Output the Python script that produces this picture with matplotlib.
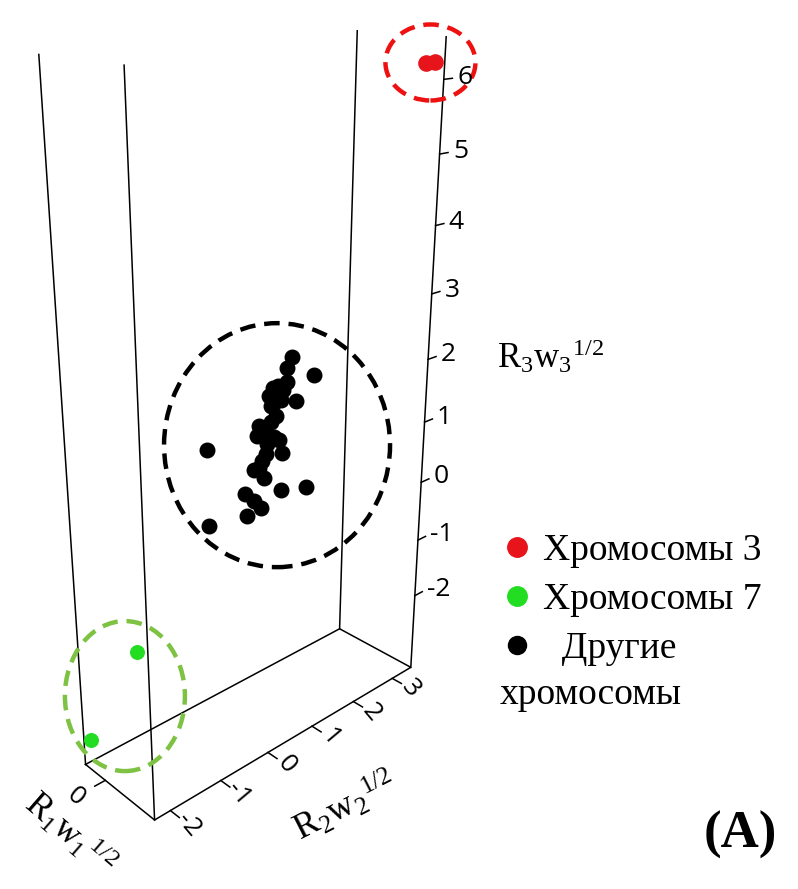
import numpy as np
import matplotlib
matplotlib.use("Agg")
import matplotlib.pyplot as plt
from matplotlib.lines import Line2D
from matplotlib.patches import Ellipse
from mpl_toolkits.mplot3d import proj3d

plt.rcParams['font.family'] = ['Liberation Serif', 'DejaVu Serif']
plt.rcParams['mathtext.fontset'] = 'custom'
plt.rcParams['mathtext.rm'] = 'Liberation Serif'
plt.rcParams['mathtext.it'] = 'Liberation Serif'

# other chromosomes (black cluster)
other_r1 = [0.2] * 34
other_r2 = [1.31, 1.78, 1.20, 1.19, 1.01, 1.40, 0.90, 0.83, 1.08, 0.86, 0.97, 0.61,
            0.76, 0.93, 0.58, 1.04, 1.11, 0.76, 0.68, 0.51, 0.72, 0.33, 0.51, 0.65,
            0.36, 1.08, 1.65, -0.42, -0.42, 0.86, 0.79, 0.61, 0.90, 1.11]
other_r3 = [2.31, 1.93, 2.18, 1.97, 1.95, 1.62, 1.95, 1.84, 1.72, 1.68, 1.50, 1.44,
            1.32, 1.20, 1.31, 1.12, 0.89, 0.97, 0.89, 0.80, 0.61, 0.48, 0.32, 0.16,
            0.13, 0.31, 0.19, 1.36, 0.21, 1.44, 1.13, 0.80, 1.70, 1.87]
# chromosome 3 (red) and chromosome 7 (green)
chr3_r1 = [0.60, 0.56]
chr3_r2 = [3.48, 3.38]
chr3_r3 = [6.22, 6.20]
chr7_r1 = [-0.28, 0.30]
chr7_r2 = [-2.20, -1.97]
chr7_r3 = [-2.95, -1.12]

r1_lim = (-0.3, 0.7)
r2_lim = (-2.3, 3.5)
r3_lim = (-3.35, 6.55)
r1_ticks = [0]
r2_ticks = [-2, -1, 0, 1, 2, 3]
r3_ticks = [-2, -1, 0, 1, 2, 3, 4, 5, 6]

W, H = 798, 889
fig = plt.figure(figsize=(W / 100, H / 100), dpi=100)
ax = fig.add_axes([0, 0, 1, 1], projection='3d')
ax.set_proj_type('persp', focal_length=0.28)
ax.view_init(elev=22, azim=-43)
ax.set_box_aspect((0.3, 1, 1.85))
ax.set_xlim(r1_lim)
ax.set_ylim(r2_lim)
ax.set_zlim(r3_lim)
ax.set_axis_off()

x0, x1 = r1_lim
y0, y1 = r2_lim
z0, z1 = r3_lim
edge = dict(color='black', lw=1.1)
# vertical edges
for cx, cy in [(x0, y0), (x1, y0), (x1, y1), (x0, y1)]:
    ax.plot([cx, cx], [cy, cy], [z0, z1], **edge)
# floor
ax.plot([x0, x1, x1, x0, x0], [y0, y0, y1, y1, y0], [z0] * 5, **edge)

# tick marks
for t in r3_ticks:
    ax.plot([x1, x1], [y1, y1 + 0.2], [t, t], **edge)
for t in r2_ticks:
    ax.plot([x1, x1 + 0.12], [t, t], [z0, z0], **edge)
for t in r1_ticks:
    ax.plot([t, t], [y0, y0 - 0.2], [z0, z0], **edge)

ax.scatter(other_r1, other_r2, other_r3, s=110, c='black', depthshade=False)
ax.scatter(chr3_r1, chr3_r2, chr3_r3, s=120, c='#e8141b', depthshade=False)
ax.scatter(chr7_r1, chr7_r2, chr7_r3, s=95, c='#22dd22', depthshade=False)


def to_px(xs, ys, zs):
    qx, qy, _ = proj3d.proj_transform(np.asarray(xs, float), np.asarray(ys, float),
                                      np.asarray(zs, float), ax.get_proj())
    return ax.transData.transform(np.column_stack([qx, qy]))


# fit the box into the frame of the reference
fig.canvas.draw()
disp = to_px([x0, x1, x1, x0] * 2, [y0, y0, y1, y1] * 2, [z0] * 4 + [z1] * 4)
pos = ax.get_position()
side = pos.width * W
u = (disp - [pos.x0 * W, pos.y0 * H]) / side
S = (859 - 69) / (u[:, 1].max() - u[:, 1].min())
ox = 242.5 - S * (u[:, 0].max() + u[:, 0].min()) / 2
oy = 69 - S * u[:, 1].min()
ax.set_position([ox / W, oy / H, S / W, S / H])
fig.canvas.draw()

# tick labels
tick_font = dict(family='Open Sans', fontsize=19)
for t, p in zip(r3_ticks, to_px([x1] * len(r3_ticks), [y1 + 0.32] * len(r3_ticks), r3_ticks)):
    fig.text(p[0] / W, p[1] / H, str(t), ha='left', va='center', **tick_font)
for t, p in zip(r2_ticks, to_px([x1 + 0.24] * len(r2_ticks), r2_ticks, [z0] * len(r2_ticks))):
    fig.text(p[0] / W, p[1] / H, str(t), ha='center', va='center', rotation=-50, **tick_font)
for t, p in zip(r1_ticks, to_px(r1_ticks, [y0 - 0.55] * len(r1_ticks), [z0] * len(r1_ticks))):
    fig.text(p[0] / W, p[1] / H, str(t), ha='center', va='center', rotation=-40, **tick_font)

ring = dict(fill=False, lw=3.2, linestyle=(0, (3.5, 2)), transform=fig.transFigure)
c = to_px(chr3_r1, chr3_r2, chr3_r3).mean(axis=0)
fig.add_artist(Ellipse((c[0] / W, c[1] / H), 90 / W, 76 / H, ec='#ee1111', **ring))
c = to_px(other_r1, other_r2, other_r3).mean(axis=0)
fig.add_artist(Ellipse(((c[0] + 8) / W, (c[1] - 8) / H), 226 / W, 244 / H, ec='black', **ring))
c = to_px(chr7_r1, chr7_r2, chr7_r3).mean(axis=0)
fig.add_artist(Ellipse(((c[0] + 11) / W, c[1] / H), 120 / W, 150 / H, ec='#7dc242', **ring))

# axis titles
fig.text(497 / W, 1 - 357 / H, r'R$_3$w$_3$$^{1/2}$', fontsize=25, ha='left', va='center')
fig.text(345 / W, 1 - 806 / H, r'R$_2$w$_2$$^{1/2}$', fontsize=26, ha='center', va='center',
         rotation=27)
fig.text(70 / W, 1 - 834 / H, r'R$_1$w$_1$$^{1/2}$', fontsize=25, ha='center', va='center',
         rotation=-41)
fig.text(740 / W, 1 - 835 / H, '(A)', fontsize=38, fontweight='bold', ha='center', va='center')

handles = [Line2D([], [], ls='', marker='o', ms=14, color='#e8141b'),
           Line2D([], [], ls='', marker='o', ms=14, color='#22dd22'),
           Line2D([], [], ls='', marker='o', ms=13, color='black')]
fig.legend(handles, ['Хромосомы 3', 'Хромосомы 7', '  Другие'], loc='upper left',
           bbox_to_anchor=(487 / W, 1 - 515 / H), frameon=False, fontsize=27,
           handlelength=0.6, handletextpad=0.4, labelspacing=0.38, borderpad=0)
fig.text(500 / W, 1 - 695 / H, 'хромосомы', fontsize=27, ha='left', va='center')

fig.savefig('out.png', dpi=100)
